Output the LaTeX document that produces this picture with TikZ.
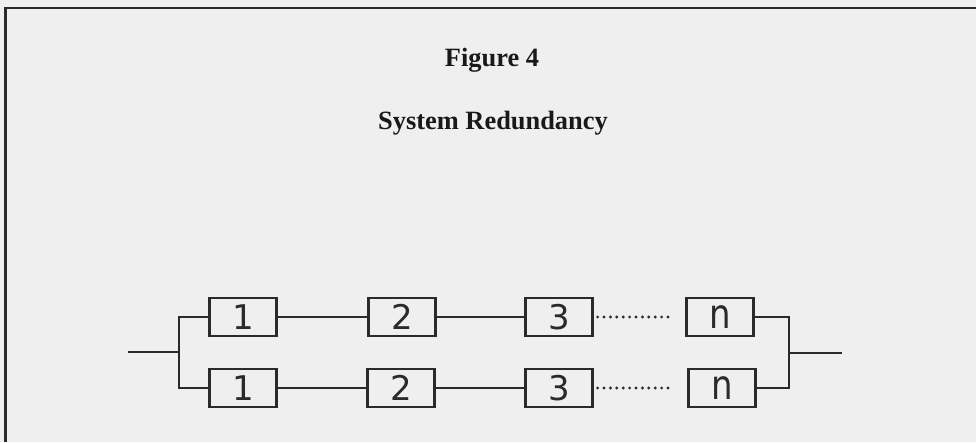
\documentclass[tikz,border=0pt]{standalone}
\usepackage{fontspec}
\setmainfont{Liberation Serif}
\newfontfamily\boxfont{DejaVu Sans}
\definecolor{paper}{HTML}{EFEFEF}
\definecolor{ink}{HTML}{2A2A2A}
\begin{document}
\begin{tikzpicture}[x=1pt,y=-1pt,
  unit/.style={draw=ink,line width=2.2pt,minimum width=67pt,minimum height=38pt,inner sep=0pt,
    font=\boxfont\fontsize{34}{36}\selectfont,text=ink},
  wire/.style={draw=ink,line width=2pt},
  dots/.style={draw=ink,line width=3.2pt,line cap=round,dash pattern=on 0pt off 6.4pt},
  title/.style={anchor=base,inner sep=0pt,font=\bfseries\fontsize{26.4}{30}\selectfont,text=black!90}]
\fill[paper] (0,0) rectangle (976,442);
\useasboundingbox (0,0) rectangle (976,442);
\draw[ink,line width=2pt] (5,8) -- (976,8);
\draw[ink,line width=3pt] (5,7) -- (5,442);
\node[title] (fig) at (492,66) {Figure 4};
\node[title] (sub) at (493,129) {System Redundancy};
% top row
\node[unit] (a1) at (243,317) {1};
\node[unit] (a2) at (402,317) {2};
\node[unit] (a3) at (559,317) {3};
\node[unit] (an) at (720,317) {\scalebox{1}[1.2]{n}};
% bottom row
\node[unit] (b1) at (243,388) {1};
\node[unit] (b2) at (401,388) {2};
\node[unit] (b3) at (559,388) {3};
\node[unit] (bn) at (722,388) {\scalebox{1}[1.2]{n}};
\coordinate (in) at (128,352);
\coordinate (sl) at (179,352);
\coordinate (jr) at (789,353);
\coordinate (out) at (842,353);
\draw[wire] (in) -- (sl);
\draw[wire] (sl) |- (a1.west);
\draw[wire] (sl) |- (b1.west);
\draw[wire] (a1.east) -- (a2.west);
\draw[wire] (a2.east) -- (a3.west);
\draw[wire] (b1.east) -- (b2.west);
\draw[wire] (b2.east) -- (b3.west);
\draw[dots] ([xshift=4pt]a3.east) -- ([xshift=-16pt]an.west);
\draw[dots] ([xshift=4pt]b3.east) -- ([xshift=-18pt]bn.west);
\draw[wire] (an.east) -| (jr);
\draw[wire] (jr) |- (bn.east);
\draw[wire] (jr) -- (out);
\end{tikzpicture}
\end{document}
